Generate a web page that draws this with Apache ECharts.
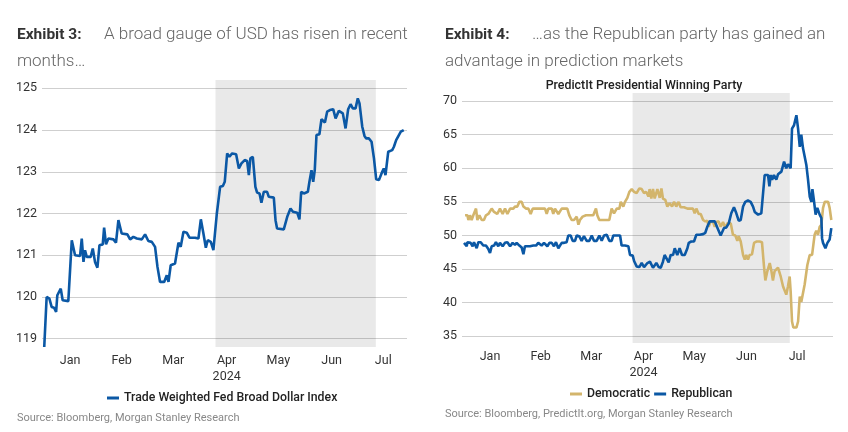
<!DOCTYPE html>
<html><head><meta charset="utf-8">
<script src="https://cdn.jsdelivr.net/npm/echarts@6/dist/echarts.min.js"></script>
<style>html,body{margin:0;padding:0;background:#fff}#c{width:848px;height:432px}</style>
</head><body><div id="c"></div>
<script>
// x values: days since 1 Jan 2024
const monthLabels = ['Jan', 'Feb', 'Mar', 'Apr\n2024', 'May', 'Jun', 'Jul'];
const monthDays = [15, 45, 75, 106, 136, 167, 197];
const usdTicks = [119, 120, 121, 122, 123, 124, 125];
const predTicks = [35, 40, 45, 50, 55, 60, 65, 70];
const shadeRange = [99.5, 192.7];

const usdIndex = [[0,118.8],[1.4,120.0],[3.0,119.96],[4.3,119.76],[5.7,119.74],[6.9,119.64],[7.6,120.04],[9.6,120.2],[10.7,119.92],[14.0,119.9],[16.0,121.36],[17.9,121.0],[20.8,120.98],[21.8,121.4],[22.8,120.84],[23.7,121.12],[24.7,120.96],[27.0,120.96],[28.2,121.16],[29.5,120.84],[30.9,120.7],[32.1,121.24],[34.0,121.26],[34.8,121.66],[35.9,121.26],[37.3,121.4],[40.2,121.38],[41.7,121.3],[43.1,121.84],[45.0,121.52],[48.3,121.5],[49.9,121.38],[51.8,121.44],[53.8,121.4],[56.7,121.38],[58.6,121.5],[60.5,121.34],[62.5,121.32],[64.4,121.2],[65.8,120.72],[67.3,120.36],[69.7,120.36],[71.2,120.52],[72.2,120.36],[73.5,120.76],[76.0,120.8],[78.0,121.3],[79.3,121.2],[80.9,121.56],[82.8,121.54],[84.4,121.42],[87.7,121.42],[89.6,121.4],[91.0,121.86],[92.5,121.52],[93.9,121.18],[95.0,121.36],[96.8,121.32],[98.3,121.12],[99.3,121.12],[100.3,122.0],[101.2,122.02],[102.2,122.64],[103.8,122.66],[104.9,122.76],[106.3,123.44],[107.6,123.36],[109.2,123.44],[111.5,123.42],[113.1,123.08],[114.6,123.2],[116.5,123.28],[117.9,123.26],[118.9,122.92],[119.8,123.32],[121.2,123.36],[122.7,122.64],[123.7,122.5],[125.1,122.48],[126.2,122.26],[127.6,122.52],[129.5,122.52],[130.5,122.4],[133.4,122.38],[134.4,121.84],[135.3,121.64],[139.2,121.62],[141.2,121.92],[143.1,122.12],[144.5,122.04],[147.0,122.02],[148.3,121.86],[149.3,122.52],[150.9,122.48],[153.2,122.52],[154.1,122.76],[155.3,123.04],[156.3,122.76],[157.2,123.04],[158.2,123.88],[159.9,123.9],[161.1,124.26],[162.1,124.3],[163.1,124.18],[164.4,124.44],[166.0,124.48],[167.9,124.5],[169.3,124.28],[170.4,124.26],[171.2,124.46],[173.5,124.4],[174.3,124.36],[175.1,124.04],[176.6,124.5],[178.0,124.62],[179.3,124.52],[180.9,124.52],[182.2,124.76],[183.2,124.64],[184.8,124.08],[186.1,123.86],[187.1,123.8],[188.6,123.8],[190.2,123.72],[191.6,123.32],[192.9,122.82],[194.5,122.8],[195.4,122.82],[196.4,123.0],[197.3,123.08],[198.3,122.92],[199.9,123.48],[202.2,123.52],[203.2,123.6],[204.5,123.76],[206.1,123.88],[207.2,123.96],[208.9,124.0]];

const democratic = [[0.2,53],[1.6,53],[2.2,52.3],[3.1,53],[4.1,52.3],[5.1,53],[6.7,54],[7.5,52.3],[8.7,53],[10.1,52.3],[11.4,52.3],[12.6,53],[14.0,53.2],[16.0,54],[17.4,53.5],[19.3,53.2],[20.9,54],[22.5,53.2],[23.9,54],[25.3,53.2],[26.9,54],[28.8,54],[29.8,54.3],[31.2,54.3],[32.4,55],[33.8,55],[34.8,54.3],[36.3,54],[37.7,54],[39.1,53.2],[40.3,54],[42.3,54],[44.2,54],[46.2,54],[47.6,54],[48.6,53.2],[49.6,54],[51.6,54],[52.5,53.2],[53.5,54],[55.5,53.2],[57.5,54],[59.5,54],[60.8,54],[62.0,53],[63.4,52.3],[64.8,52.3],[66.4,52.8],[67.4,51.6],[68.3,52.3],[69.9,52.8],[71.9,53],[74.3,53],[76.2,53],[77.8,54],[78.6,53],[79.8,52.3],[81.2,52.3],[82.6,52.3],[84.2,52.3],[85.7,52.3],[87.1,54],[88.5,53.3],[90.1,54],[91.7,54],[92.5,55],[94.0,54.3],[95.0,55],[96.4,55.6],[97.6,56.5],[99.0,56.9],[100.4,56.5],[101.9,56.3],[103.5,57],[104.9,56.9],[106.3,56.3],[107.5,56.5],[108.9,55.8],[109.6,56.9],[110.6,55.5],[111.6,56.9],[112.6,55.5],[114.2,56.9],[115.6,55.6],[116.6,57],[117.5,55.5],[118.9,55.3],[120.1,54.3],[121.5,54.8],[122.9,54.3],[124.1,55],[125.4,54.3],[126.8,55],[128.0,54.2],[130.0,54.2],[132.0,54],[133.9,54],[135.3,54],[136.3,53.3],[137.3,54],[138.7,53.2],[139.9,53.2],[141.3,52.3],[142.6,52.1],[143.8,52.2],[144.6,51.3],[145.8,52.1],[147.2,52],[148.2,51.3],[149.2,52],[150.5,52.1],[151.7,51.3],[153.1,52],[154.5,51.1],[155.7,51.8],[156.5,52],[157.7,51.8],[159.0,50.1],[160.4,50],[161.6,49.2],[162.4,49.9],[163.6,49.1],[165.0,47.1],[166.0,46.4],[166.9,47.1],[167.9,46.4],[168.9,47.1],[170.3,47.2],[171.5,48.9],[172.9,49.1],[174.8,49.1],[176.2,49],[177.4,45.4],[178.2,43.3],[179.4,44.7],[180.8,45.9],[181.8,44.7],[182.7,43.3],[183.7,44.7],[184.7,44.9],[185.7,45.2],[187.3,43.9],[188.7,42.4],[189.7,42.3],[190.6,41.2],[191.6,42.4],[192.6,43.9],[193.2,41.7],[194.0,37.2],[194.8,36.3],[196.6,36.3],[197.6,37.2],[198.6,40.9],[199.5,40.1],[200.5,40.1],[201.5,42.7],[203.1,45.6],[204.5,47.1],[205.9,47.1],[207.4,50.1],[208.4,50.7],[209.4,50.1],[210.4,51.3],[211.4,51.6],[212.4,54.1],[213.4,55],[214.4,55.2],[215.4,55],[216.3,54.1],[217.3,52.3]];

const republican = [[-0.4,48.9],[1.2,48.4],[1.6,49],[3.5,48.9],[4.7,48.4],[5.5,49],[7.1,48.1],[8.1,49],[9.5,49],[11.0,48.5],[12.6,48.5],[14.0,48],[15.0,47.4],[16.0,48.4],[17.4,48.5],[18.5,49],[19.9,48.4],[20.9,48.9],[22.5,48.4],[23.9,48.9],[25.3,49],[26.9,48.4],[28.4,48.9],[29.8,48.6],[30.8,48.9],[32.4,48.5],[33.8,48.2],[34.8,47.2],[35.7,48.4],[36.7,48.4],[38.7,48.4],[40.7,48.5],[42.3,48.5],[43.6,48.9],[45.6,48.5],[47.0,48.9],[49.0,48.4],[50.2,48.9],[51.6,48.9],[52.9,48.4],[54.1,49],[55.5,48.1],[57.5,48.9],[58.9,48.9],[60.4,49],[61.4,50],[62.8,50],[64.0,49.2],[65.4,49.2],[66.4,50],[67.9,49.9],[69.3,49.2],[70.7,49.9],[72.3,49.2],[73.9,49.2],[75.3,50],[76.6,49.2],[78.2,49.2],[79.8,50],[81.2,49.2],[82.6,50],[84.2,50.1],[85.7,49.2],[87.1,49.2],[88.1,50],[90.1,50],[92.1,50],[93.0,48.5],[95.0,48.5],[97.0,48.4],[98.0,47.1],[99.6,47],[100.4,46.2],[101.9,45.4],[103.5,45.3],[104.9,45.9],[106.3,45.3],[108.3,45.9],[109.8,46.1],[110.6,45.9],[111.6,45.2],[112.6,45.2],[113.6,45.9],[115.0,45.3],[116.2,45.2],[117.5,46.1],[118.5,47.1],[119.5,47.1],[120.9,46],[122.1,47.1],[123.5,47.1],[124.5,48.1],[126.0,47.1],[127.4,48.1],[128.8,47.1],[130.4,47.1],[132.0,48.1],[132.8,48.9],[134.3,49.1],[135.9,49.1],[137.3,50.1],[139.3,50.1],[141.3,50.2],[142.6,50.4],[143.8,51.3],[145.2,52.1],[148.2,52.1],[149.7,51.2],[150.5,51.2],[151.7,50],[152.5,50.1],[153.7,51.1],[155.1,51.2],[156.5,51.8],[158.0,53.3],[159.6,54.2],[161.0,53.3],[162.4,52.2],[163.6,52.3],[165.0,54.3],[166.3,55],[167.9,55.2],[169.5,55],[170.9,54.3],[171.9,53.5],[173.9,53.1],[175.8,53.3],[176.8,53.2],[177.8,59],[178.8,59.1],[179.8,59],[180.6,57.3],[181.4,59],[182.2,58.3],[183.3,59],[184.7,58.3],[185.7,59.1],[186.7,59],[187.7,59.5],[189.3,61],[190.6,60],[191.6,60.6],[193.2,60],[194.0,65.9],[195.2,66.4],[196.6,67.9],[197.6,65.9],[198.6,63.2],[199.5,65],[200.5,63],[202.5,60.5],[203.5,58.3],[204.5,55.8],[205.5,55],[206.1,56.9],[207.1,55],[208.0,53.1],[209.0,54.1],[210.4,53.1],[211.4,52.6],[211.8,49.6],[212.4,48.9],[213.8,48.1],[215.0,48.9],[216.3,49.4],[217.3,51.1]];

const BLUE = '#0b58a5', GOLD = '#d3b56c', FONT = 'Roboto';
const chart = echarts.init(document.getElementById('c'), null, {renderer: 'canvas'});

function xAxisCfg(gi, min, max) {
  return {
    type: 'value', gridIndex: gi, min: min, max: max,
    axisLine: {show: false}, axisTick: {show: false, customValues: monthDays},
    splitLine: {show: false},
    axisLabel: {customValues: monthDays, color: '#333', fontFamily: FONT, fontSize: 12.5, margin: 6, lineHeight: 16,
      formatter: v => monthLabels[monthDays.indexOf(v)] || ''}
  };
}
function yAxisCfg(gi, min, max, ticks) {
  return {
    type: 'value', gridIndex: gi, min: min, max: max,
    axisLine: {show: false}, axisTick: {show: false, customValues: ticks},
    splitLine: {show: true, lineStyle: {color: '#cfcfcf', width: 1}},
    axisLabel: {customValues: ticks, color: '#333', fontFamily: FONT, fontSize: 12.5, margin: 5}
  };
}
const shade = {silent: true, itemStyle: {color: 'rgba(0,0,0,0.085)'}, data: [[{xAxis: shadeRange[0]}, {xAxis: shadeRange[1]}]]};

const txt = (x, y, text, font, fill, align) => ({type: 'text', x: x, y: y, silent: true,
  style: {text: text, font: font, fill: fill, align: align || 'left', verticalAlign: 'middle'}});

chart.setOption({
  animation: false,
  grid: [{left: 42, top: 80, width: 365, height: 267}, {left: 462, top: 93, width: 371, height: 250}],
  xAxis: [xAxisCfg(0, -1.3, 210.8), xAxisCfg(1, -1.6, 218.3)],
  yAxis: [yAxisCfg(0, 118.8, 125.2, usdTicks), yAxisCfg(1, 34, 71.2, predTicks)],
  legend: [
    {data: ['Trade Weighted Fed Broad Dollar Index'], left: 102, top: 387, icon: 'rect', itemWidth: 12, itemHeight: 3, itemGap: 4,
     textStyle: {fontFamily: FONT, fontSize: 12.3, color: '#222', fontWeight: 500}},
    {data: ['Democratic', 'Republican'], left: 565, top: 383, icon: 'rect', itemWidth: 12, itemHeight: 3, itemGap: 4,
     textStyle: {fontFamily: FONT, fontSize: 12.3, color: '#222', fontWeight: 500}}
  ],
  series: [
    {name: 'Trade Weighted Fed Broad Dollar Index', type: 'line', xAxisIndex: 0, yAxisIndex: 0, data: usdIndex,
     showSymbol: false, color: BLUE, lineStyle: {width: 2.6, color: BLUE}, markArea: shade},
    {name: 'Democratic', type: 'line', xAxisIndex: 1, yAxisIndex: 1, data: democratic,
     showSymbol: false, color: GOLD, lineStyle: {width: 2.6, color: GOLD}, markArea: shade},
    {name: 'Republican', type: 'line', xAxisIndex: 1, yAxisIndex: 1, data: republican,
     showSymbol: false, color: BLUE, lineStyle: {width: 2.6, color: BLUE}}
  ],
  graphic: [
    txt(17, 35, 'Exhibit 3:', 'bold 15.5px Roboto', '#333'),
    txt(104, 35, 'A broad gauge of USD has risen in recent', '300 17px Roboto', '#666'),
    txt(17, 62, 'months…', '300 17px Roboto', '#666'),
    txt(445, 35, 'Exhibit 4:', 'bold 15.5px Roboto', '#333'),
    txt(532, 35, '…as the Republican party has gained an', '300 17px Roboto', '#666'),
    txt(445, 62, 'advantage in prediction markets', '300 17px Roboto', '#666'),
    txt(644, 86, 'PredictIt Presidential Winning Party', '500 12.4px Roboto', '#222', 'center'),
    txt(17, 418, 'Source: Bloomberg, Morgan Stanley Research', '11px Roboto', '#888'),
    txt(445, 414, 'Source: Bloomberg, PredictIt.org, Morgan Stanley Research', '11px Roboto', '#888')
  ]
});
</script></body></html>
